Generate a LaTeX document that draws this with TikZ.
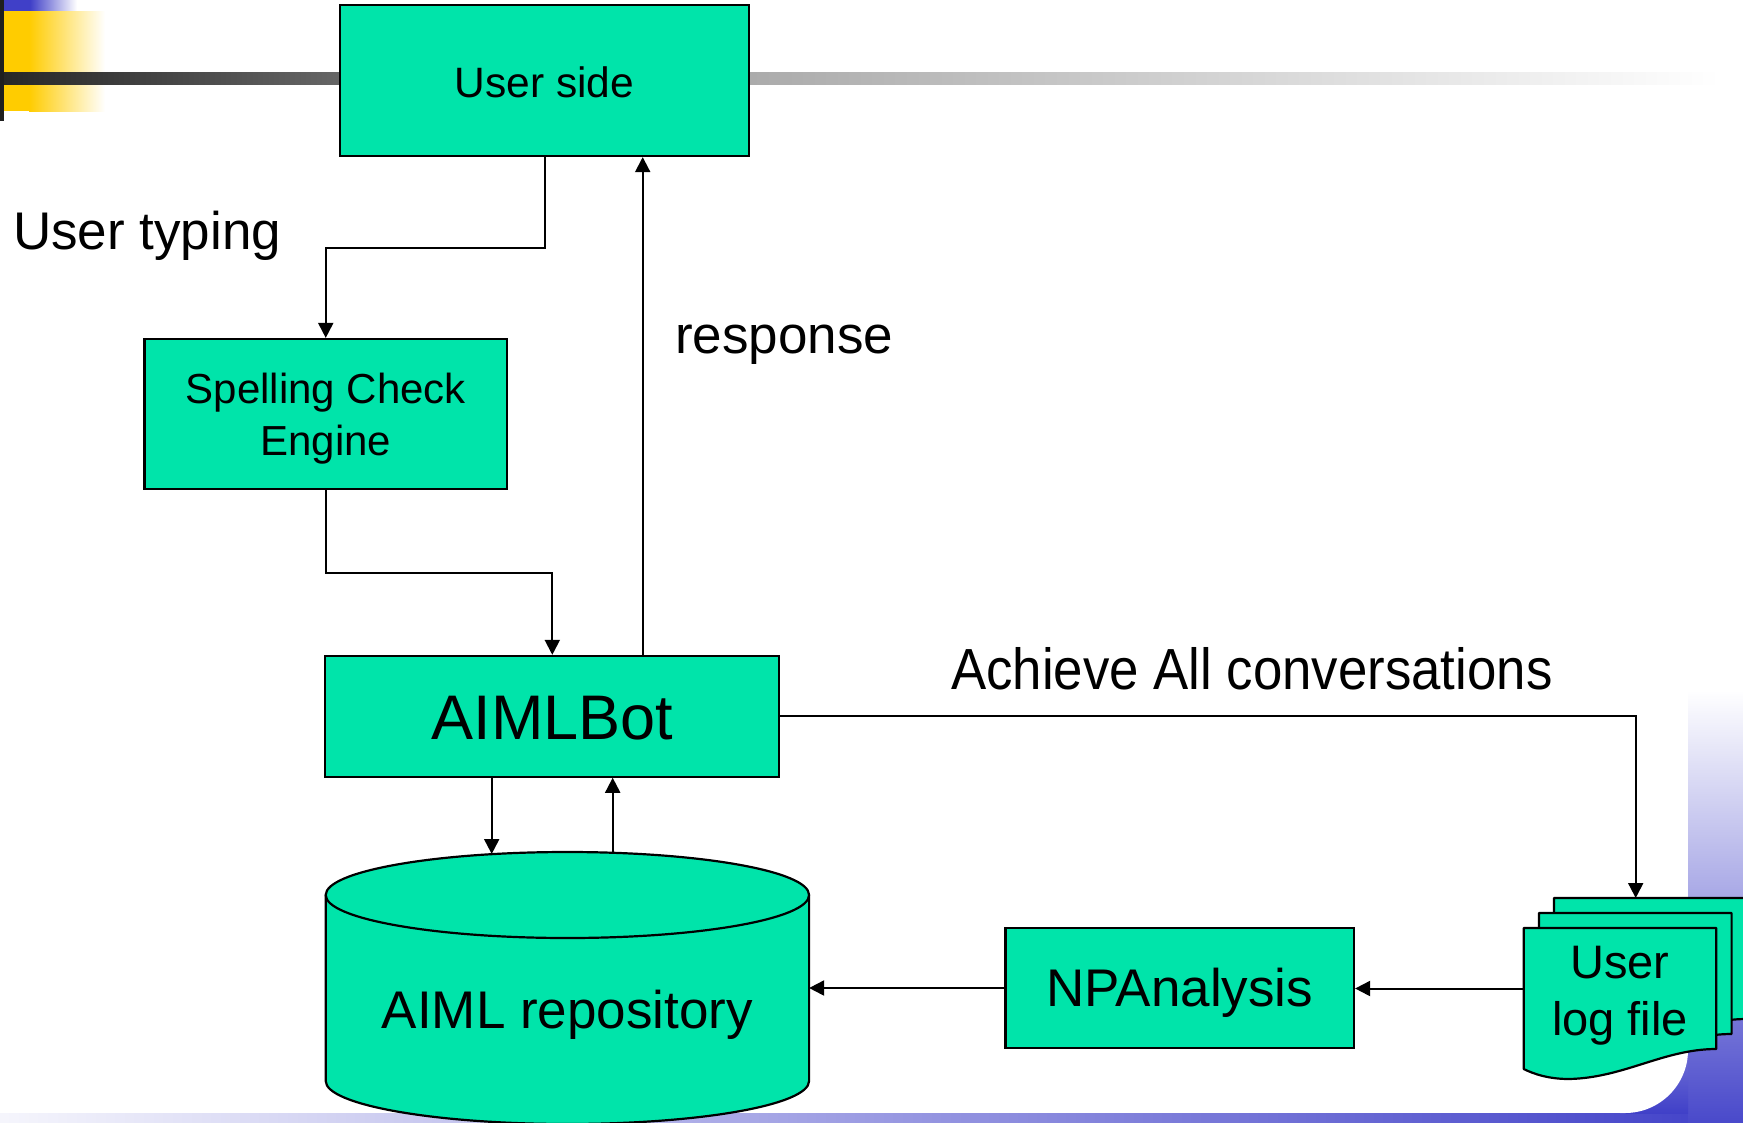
\documentclass[tikz,border=0pt]{standalone}
\usepackage{fontspec}
\setmainfont{Liberation Sans}
\usetikzlibrary{arrows.meta}
\definecolor{boxgreen}{RGB}{0,228,170}
\definecolor{tplblue}{RGB}{64,64,200}
\definecolor{tplyellow}{RGB}{255,204,0}
\begin{document}
\begin{tikzpicture}[x=1pt,y=-1pt,
  box/.style={draw=black, line width=2.2pt, fill=boxgreen, inner sep=0pt},
  txt/.style={inner sep=0pt, align=center},
  arr/.style={line width=2pt, -{Triangle[length=15pt,width=15pt]}},
  lbl/.style={inner sep=0pt, anchor=west},
  docpic/.pic={\filldraw[fill=boxgreen, draw=black, line width=2.2pt, line join=round]
     (0,0) -- (192.6,0) -- (192.6,121) .. controls (140,121) and (100,150) .. (45,151)
     .. controls (25,151) and (10,146) .. (0,141) -- cycle;}
]
\useasboundingbox (0,0) rectangle (1743,1122);
\clip (0,0) rectangle (1743,1122);
\fill[white] (0,0) rectangle (1743,1122);
% template decoration
\fill[tplblue] (3,0) rectangle (30,11);
\shade[left color=tplblue, right color=white] (30,0) rectangle (77,11);
\fill[tplyellow] (3,11) rectangle (29,111);
\shade[left color=tplyellow, right color=white] (29,11) rectangle (105,111);
\shade[left color=black!85, right color=black!60] (0,72) rectangle (340,84);
\shade[left color=black!33, right color=white] (749,72) rectangle (1720,84);
\fill[black!88] (0,0) rectangle (3.7,121);
\shade[left color=tplblue!5, right color=tplblue] (0,1113) rectangle (1743,1122);
\shade[top color=white, bottom color=tplblue!95] (1688,690) rectangle (1743,1122);
\shade[top color=tplblue!70, bottom color=tplblue] (1620,1040) rectangle (1688,1113);
\fill[white] (1620,1040) -- (1688,1040) -- (1688,1050)
   arc[start angle=0, end angle=90, radius=63] -- (1620,1113) -- cycle;

% boxes
\node[box, minimum width=409pt, minimum height=151pt] (user) at (544.5,80.5) {};
\node[txt, font=\fontsize{42.5}{50}\selectfont] (usert) at ([yshift=-2pt]user.center) {User side};
\node[box, minimum width=362.5pt, minimum height=150pt] (spell) at (325.75,414) {};
\node[txt, font=\fontsize{42}{52}\selectfont] (spellt) at ([yshift=-5pt]spell.center) {Spelling Check\\Engine};
\node[box, minimum width=454pt, minimum height=120.7pt] (bot) at (552.3,716.3) {};
\node[txt, font=\fontsize{63}{70}\selectfont] (bott) at ([yshift=-2pt]bot.center) {AIMLBot};
\node[box, minimum width=348.5pt, minimum height=120pt] (np) at (1179.75,988) {};
\node[txt, font=\fontsize{53}{60}\selectfont] (npt) at ([yshift=-5pt]np.center) {NPAnalysis};

% cylinder
\filldraw[fill=boxgreen, draw=black, line width=2.2pt] (325.7,895) -- (325.7,1081)
   arc[start angle=180, end angle=0, x radius=241.7, y radius=43] -- (809.1,895)
   arc[start angle=0, end angle=-180, x radius=241.7, y radius=43] -- cycle;
\draw[line width=2.2pt] (325.7,895) arc[start angle=180, end angle=0, x radius=241.7, y radius=43];
\node[txt, font=\fontsize{53}{60}\selectfont] (repo) at (567.4,1015) {AIML repository};
\coordinate (repoin) at (491.7,854);
\coordinate (repoout) at (612.7,853);
\coordinate (reporight) at (809.1,988);

% documents
\pic at (1554,898) {docpic};
\pic at (1539,913) {docpic};
\pic at (1523.7,928) {docpic};
\node[inner sep=0pt, minimum width=192.6pt, minimum height=121pt] (log) at (1620,988.5) {};
\node[txt, font=\fontsize{47}{57}\selectfont] (logt) at ([yshift=-7pt]log.center) {User\\log file};
\coordinate (backtop) at (1635.7,898);

% labels
\node[lbl, font=\fontsize{53}{60}\selectfont] (typing) at (13,236) {User typing};
\node[lbl, font=\fontsize{53}{60}\selectfont] (resplbl) at (675,345) {response};
\node[lbl, font=\fontsize{58}{60}\selectfont, xscale=0.91] (achv) at (951,669) {Achieve All conversations};

% connectors
\coordinate (resp) at (642.7,656);
\draw[arr] (user.south) -- ++(0,91) -| (spell.north);
\draw[arr] (spell.south) -- ++(0,83.3) -| (bot.north);
\draw[arr] (resp) -- (resp |- user.south);
\draw[arr] (bot.south -| repoin) -- (repoin);
\draw[arr] (repoout) -- (repoout |- bot.south);
\draw[arr] (bot.east) -| (backtop);
\draw[arr] (np.west) -- (reporight);
\draw[arr] (log.west) -- (log.west -| np.east);
\end{tikzpicture}
\end{document}
